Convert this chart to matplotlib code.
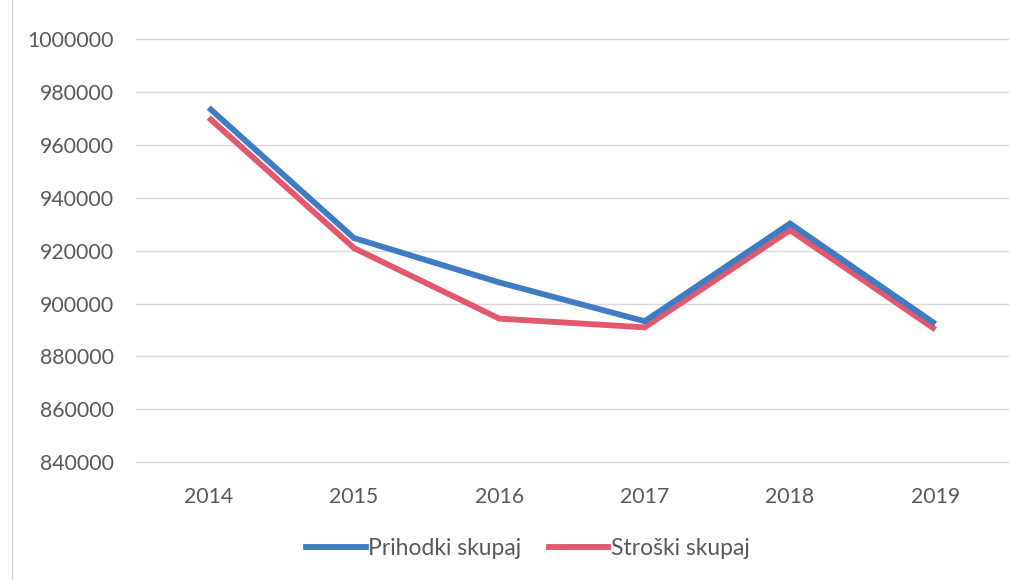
import matplotlib
matplotlib.use('Agg')
import matplotlib.pyplot as plt
from matplotlib.lines import Line2D

years = ['2014', '2015', '2016', '2017', '2018', '2019']
prihodki = [974200, 924800, 908000, 893300, 930300, 892300]
stroski = [970400, 921000, 894300, 891000, 927800, 890200]
y_ticks = [840000, 860000, 880000, 900000, 920000, 940000, 960000, 980000, 1000000]

plt.rcParams['font.family'] = ['Lato', 'DejaVu Sans']

fig = plt.figure(figsize=(10.29, 5.80), dpi=100)
ax = fig.add_axes([0.1322, 0.2034, 0.8474, 0.7285])

x = range(len(years))
ax.plot(x, prihodki, color='#3F7CC4', linewidth=4.2, label='Prihodki skupaj',
        solid_capstyle='butt', solid_joinstyle='miter', zorder=3)
ax.plot(x, stroski, color='#E2586E', linewidth=4.2, label='Stroški skupaj',
        solid_capstyle='butt', solid_joinstyle='miter', zorder=2)

ax.set_xlim(-0.5, len(years) - 0.5)
ax.set_ylim(840000, 1000000)
ax.set_yticks(y_ticks)
ax.set_yticklabels([str(v) for v in y_ticks])
ax.set_xticks(list(x))
ax.set_xticklabels(years)
ax.tick_params(axis='both', length=0, labelsize=15.3, labelcolor='#595959')
ax.tick_params(axis='y', pad=16)
ax.tick_params(axis='x', pad=18)
ax.grid(axis='y', color='#d9d9d9', linewidth=1)
for gl in ax.get_ygridlines():
    gl.set_clip_on(False)
ax.set_axisbelow(True)
for s in ax.spines.values():
    s.set_visible(False)

fig.legend(handles=[Line2D([], [], color='#3F7CC4', lw=4.2),
                    Line2D([], [], color='#E2586E', lw=4.2)],
           labels=['Prihodki skupaj', 'Stroški skupaj'],
           loc='center', bbox_to_anchor=(0.513, 0.055), ncol=2, frameon=False,
           fontsize=16.5, labelcolor='#595959', handlelength=2.6,
           handletextpad=0.1, columnspacing=1.2)

# faint chart border on the left
fig.add_artist(Line2D([0.012, 0.012], [0, 1], transform=fig.transFigure,
                      color='#d6d6d6', linewidth=1))

fig.savefig('out.png', dpi=100)
